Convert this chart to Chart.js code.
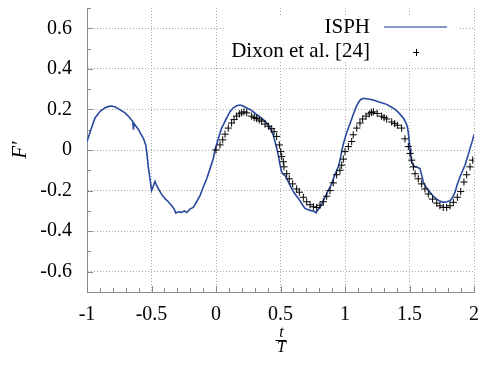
<!DOCTYPE html>
<html><head><meta charset="utf-8">
<script src="https://cdn.jsdelivr.net/npm/chart.js@4"></script>
<style>html,body{margin:0;padding:0;background:#fff}canvas{display:block}</style>
</head><body>
<canvas id="c" width="480" height="366"></canvas>
<script>
const xTicks = [-1, -0.5, 0, 0.5, 1, 1.5, 2];
const yTicks = [-0.6, -0.4, -0.2, 0, 0.2, 0.4, 0.6];
const seriesNames = ['ISPH', 'Dixon et al. [24]'];
const xTitleTop = 't', xTitleBottom = 'T', yTitle = 'F\u2032';

const isphT = [-1.0,-0.97,-0.938,-0.9,-0.86,-0.83,-0.809,-0.78,-0.75,-0.705,-0.67,-0.645,-0.64,-0.635,-0.6,-0.575,-0.563,-0.545,-0.535,-0.525,-0.51,-0.499,-0.49,-0.473,-0.46,-0.447,-0.42,-0.395,-0.37,-0.343,-0.325,-0.312,-0.29,-0.266,-0.245,-0.227,-0.2,-0.176,-0.15,-0.124,-0.1,-0.072,-0.045,-0.021,-0.008,0.02,0.044,0.083,0.11,0.134,0.16,0.186,0.205,0.225,0.245,0.264,0.29,0.315,0.35,0.38,0.41,0.432,0.445,0.457,0.47,0.483,0.495,0.509,0.52,0.535,0.555,0.574,0.595,0.612,0.63,0.651,0.67,0.69,0.715,0.742,0.76,0.775,0.79,0.806,0.825,0.845,0.87,0.897,0.92,0.948,0.965,0.974,0.987,1.0,1.013,1.026,1.045,1.064,1.085,1.103,1.12,1.142,1.165,1.194,1.225,1.258,1.29,1.323,1.355,1.388,1.415,1.439,1.455,1.465,1.475,1.485,1.491,1.497,1.504,1.51,1.517,1.53,1.543,1.56,1.581,1.595,1.607,1.63,1.659,1.685,1.711,1.735,1.762,1.79,1.814,1.835,1.853,1.87,1.891,1.91,1.93,1.95,1.969,1.985,2.0];
const isphF = [0.042,0.1,0.158,0.19,0.208,0.215,0.217,0.212,0.2,0.183,0.16,0.14,0.1,0.13,0.1,0.07,0.058,0.025,-0.02,-0.083,-0.15,-0.2,-0.185,-0.155,-0.175,-0.19,-0.22,-0.24,-0.255,-0.275,-0.29,-0.31,-0.305,-0.308,-0.3,-0.308,-0.29,-0.283,-0.255,-0.225,-0.185,-0.142,-0.09,-0.042,0.0,0.06,0.108,0.158,0.19,0.208,0.218,0.222,0.218,0.212,0.205,0.2,0.188,0.175,0.158,0.142,0.12,0.092,0.07,0.042,0.01,-0.025,-0.07,-0.108,-0.12,-0.125,-0.15,-0.175,-0.2,-0.217,-0.232,-0.25,-0.27,-0.288,-0.295,-0.3,-0.302,-0.31,-0.295,-0.283,-0.26,-0.233,-0.2,-0.167,-0.125,-0.083,-0.04,-0.008,0.03,0.058,0.085,0.108,0.14,0.175,0.21,0.233,0.248,0.255,0.253,0.25,0.245,0.238,0.232,0.225,0.213,0.2,0.185,0.167,0.155,0.142,0.13,0.11,0.083,0.05,0.008,-0.03,-0.058,-0.075,-0.083,-0.085,-0.092,-0.125,-0.158,-0.185,-0.208,-0.228,-0.242,-0.252,-0.258,-0.255,-0.25,-0.232,-0.208,-0.17,-0.133,-0.105,-0.075,-0.035,0.008,0.04,0.075];

const dixonT = [0.0,0.031,0.052,0.07,0.095,0.121,0.14,0.16,0.181,0.199,0.217,0.238,0.277,0.296,0.315,0.335,0.354,0.38,0.406,0.432,0.45,0.47,0.491,0.502,0.509,0.522,0.527,0.548,0.568,0.594,0.625,0.646,0.677,0.703,0.729,0.755,0.781,0.806,0.832,0.858,0.884,0.909,0.935,0.961,0.974,0.987,1.0,1.026,1.052,1.064,1.091,1.116,1.137,1.163,1.188,1.205,1.22,1.25,1.284,1.303,1.323,1.362,1.385,1.406,1.439,1.465,1.491,1.504,1.517,1.53,1.543,1.568,1.594,1.62,1.646,1.679,1.711,1.736,1.762,1.788,1.814,1.84,1.871,1.897,1.922,1.943,1.969,1.99];
const dixonF = [0.0,0.025,0.05,0.078,0.108,0.133,0.15,0.167,0.178,0.183,0.188,0.183,0.167,0.16,0.155,0.148,0.142,0.128,0.117,0.105,0.09,0.067,0.025,-0.008,-0.033,-0.058,-0.083,-0.117,-0.142,-0.167,-0.192,-0.208,-0.233,-0.255,-0.27,-0.28,-0.283,-0.272,-0.255,-0.228,-0.2,-0.162,-0.122,-0.1,-0.075,-0.045,-0.008,0.017,0.042,0.075,0.108,0.133,0.153,0.167,0.178,0.185,0.188,0.18,0.167,0.16,0.153,0.138,0.13,0.122,0.108,0.055,0.017,-0.017,-0.05,-0.083,-0.117,-0.142,-0.167,-0.192,-0.217,-0.242,-0.262,-0.275,-0.283,-0.283,-0.275,-0.258,-0.233,-0.205,-0.158,-0.122,-0.083,-0.05];

const ISPH_COLOR = '#2a479e';
const SERIF = '"Liberation Serif", "Times New Roman", serif';
const AXIS_COLOR = '#8a8a8a';
const GRID_COLOR = '#a8a8a8';

function noPad(s) { s.paddingTop = 0; s.paddingBottom = 0; s.paddingLeft = 0; s.paddingRight = 0; }

const decorPlugin = {
  id: 'decor',
  beforeDatasetsDraw(chart) {
    const {ctx, chartArea: a, scales: {x, y}} = chart;
    ctx.save();
    ctx.strokeStyle = AXIS_COLOR;
    ctx.lineWidth = 1;
    ctx.beginPath();
    for (let i = -10; i <= 20; i++) {
      const px = Math.round(x.getPixelForValue(i / 10)) + 0.5;
      const len = (i % 5 === 0) ? 6 : 4;
      ctx.moveTo(px, a.bottom); ctx.lineTo(px, a.bottom - len);
    }
    for (let i = -7; i <= 7; i++) {
      const py = Math.round(y.getPixelForValue(i / 10)) + 0.5;
      const len = (i % 2 === 0) ? 6 : 4;
      ctx.moveTo(a.left, py); ctx.lineTo(a.left + len, py);
    }
    ctx.stroke();
    ctx.restore();
  },
  afterDatasetsDraw(chart) {
    const {ctx} = chart;
    ctx.save();
    // legend
    ctx.fillStyle = '#fff';
    ctx.fillRect(224, 15, 234, 46);
    ctx.fillStyle = '#000';
    ctx.font = '21px ' + SERIF;
    ctx.textAlign = 'right';
    ctx.textBaseline = 'middle';
    ctx.fillText(seriesNames[0], 370, 27);
    ctx.fillText(seriesNames[1], 370, 51);
    ctx.strokeStyle = ISPH_COLOR;
    ctx.globalAlpha = 0.75;
    ctx.lineWidth = 1.5;
    ctx.beginPath(); ctx.moveTo(384, 27); ctx.lineTo(447, 27); ctx.stroke();
    ctx.globalAlpha = 1;
    ctx.strokeStyle = '#000';
    ctx.lineWidth = 1;
    ctx.beginPath();
    ctx.moveTo(413, 52.5); ctx.lineTo(419, 52.5);
    ctx.moveTo(416.5, 49); ctx.lineTo(416.5, 56);
    ctx.stroke();
    // y title
    ctx.save();
    ctx.translate(20, 150);
    ctx.rotate(-Math.PI / 2);
    ctx.font = 'italic 21px ' + SERIF;
    ctx.textAlign = 'center';
    ctx.textBaseline = 'middle';
    ctx.fillText(yTitle, 0, 0);
    ctx.restore();
    // x title as a fraction t / T
    const cx = chart.scales.x.getPixelForValue(0.5);
    ctx.font = 'italic 16px ' + SERIF;
    ctx.textAlign = 'center';
    ctx.textBaseline = 'middle';
    ctx.fillText(xTitleTop, cx + 1, 333);
    ctx.fillText(xTitleBottom, cx + 1, 348);
    ctx.strokeStyle = '#000';
    ctx.lineWidth = 1;
    ctx.beginPath(); ctx.moveTo(cx - 5, 340.5); ctx.lineTo(cx + 6, 340.5); ctx.stroke();
    ctx.restore();
  }
};

new Chart(document.getElementById('c'), {
  type: 'scatter',
  data: {
    datasets: [
      {
        label: seriesNames[1],
        data: dixonT.map((t, i) => ({x: t, y: dixonF[i]})),
        showLine: false,
        pointStyle: 'cross',
        pointRadius: 3.6,
        pointBorderWidth: 1,
        borderColor: '#000',
        backgroundColor: '#000',
        order: 0
      },
      {
        label: seriesNames[0],
        data: isphT.map((t, i) => ({x: t, y: isphF[i]})),
        showLine: true,
        borderColor: ISPH_COLOR,
        borderWidth: 1.6,
        pointRadius: 0,
        tension: 0,
        order: 1
      }
    ]
  },
  options: {
    responsive: false,
    animation: false,
    layout: {padding: {top: 8, right: 6, left: 0, bottom: 0}},
    plugins: {legend: {display: false}, tooltip: {enabled: false}},
    scales: {
      x: {
        type: 'linear', min: -1, max: 2,
        afterBuildTicks: s => { s.ticks = xTicks.map(v => ({value: v})); },
        afterFit: s => { s.height = 74; noPad(s); },
        ticks: {
          autoSkip: false, maxRotation: 0, padding: 11,
          color: '#000', font: {family: SERIF, size: 20},
          callback: v => String(v)
        },
        grid: {color: GRID_COLOR, lineWidth: 1, drawTicks: false},
        border: {display: true, color: AXIS_COLOR, width: 1, dash: [1, 2]}
      },
      y: {
        type: 'linear', min: -0.7, max: 0.7,
        afterBuildTicks: s => { s.ticks = yTicks.map(v => ({value: v})); },
        afterFit: s => { s.width = 87; noPad(s); },
        ticks: {
          autoSkip: false, padding: 15,
          color: '#000', font: {family: SERIF, size: 20},
          callback: v => String(v)
        },
        grid: {color: GRID_COLOR, lineWidth: 1, drawTicks: false},
        border: {display: true, color: AXIS_COLOR, width: 1, dash: [1, 2]}
      }
    }
  },
  plugins: [decorPlugin]
});
</script>
</body></html>
